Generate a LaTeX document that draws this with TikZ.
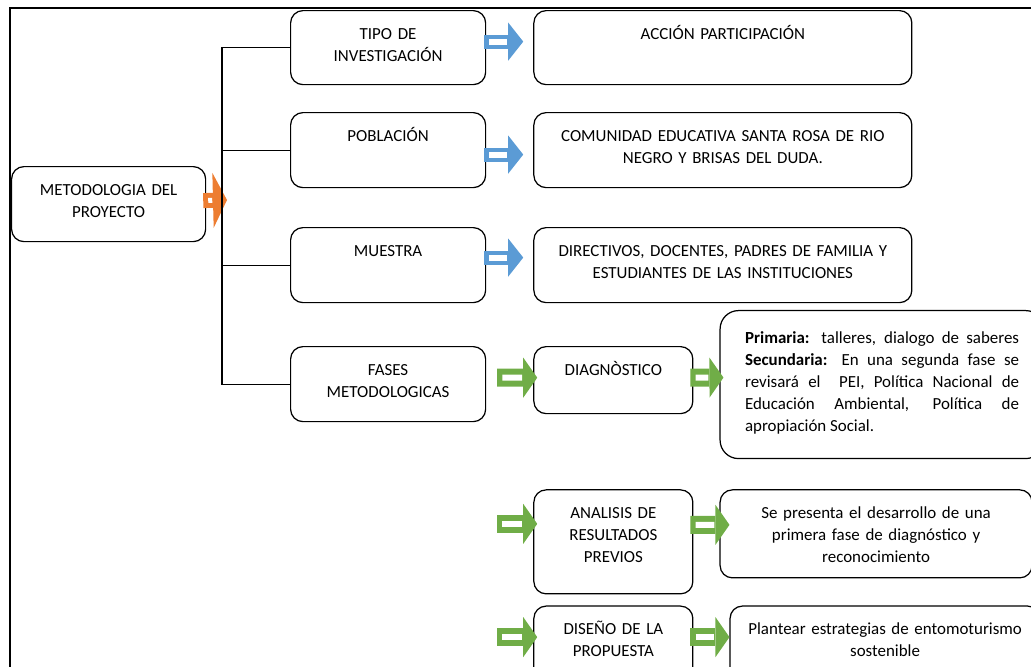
\documentclass[tikz,border=0pt]{standalone}
\usepackage{fontspec}
\setmainfont{Carlito}
\usepackage{tikz}
\usetikzlibrary{positioning}
\usetikzlibrary{arrows.meta}
\definecolor{flechaazul}{HTML}{5B9BD5}
\definecolor{flechanaranja}{HTML}{ED7D31}
\definecolor{flechaverde}{HTML}{70AD47}

\begin{document}
\begin{tikzpicture}[x=0.65pt, y=-0.65pt, line width=0.8pt,
every node/.style = {draw, rounded corners=8pt, align=center, inner sep=0pt,
  text height=18.5pt, font=\fontsize{11pt}{14.3pt}\selectfont},
  caja/.style 2 args = {text width=#1, text depth=#2},
  azul/.style = {flechaazul, line width=9.1pt,
    -{Triangle[length=9.75pt, width=24.7pt, line width=0pt]},
    postaction={draw=white, line width=3.9pt, -, shorten <=3.3pt, shorten >=10.4pt}},
  verde/.style = {flechaverde, line width=11.7pt,
    -{Triangle[length=9.1pt, width=26pt, line width=0pt]},
    postaction={draw=white, line width=3.9pt, -, shorten <=3.3pt, shorten >=9.8pt}},
  naranja/.style = {flechanaranja, line width=9.75pt,
    -{Triangle[length=9.1pt, width=35.75pt, line width=0pt]},
    postaction={draw=white, line width=3.25pt, -, shorten <=3.25pt, shorten >=9.6pt}}
]
\clip (0,0) rectangle (1031,666);
\draw[line width=1.3pt] (10,680) -- (10,8) -- (1040,8);

\node[caja={126.1pt}{30.25pt}, anchor=north west] (meto) at (11,166) {METODOLOGIA DEL\\PROYECTO};
\node[caja={126.75pt}{29.6pt}, anchor=north west] (tipo) at (290,10) {TIPO DE\\INVESTIGACIÓN};
\node[caja={126.75pt}{30.25pt}, anchor=north west] (pobl) at (290,112) {POBLACIÓN};
\node[caja={126.75pt}{30.25pt}, anchor=north west] (muestra) at (290,227) {MUESTRA};
\node[caja={126.75pt}{30.25pt}, anchor=north west] (fases) at (290,346) {FASES\\METODOLOGICAS};

\node[caja={245.7pt}{29.6pt}, right=30.55pt of tipo] (accion) {ACCIÓN PARTICIPACIÓN};
\node[caja={245.7pt}{30.25pt}, right=30.55pt of pobl] (comunidad)
  {COMUNIDAD EDUCATIVA SANTA ROSA DE RIO\\NEGRO Y BRISAS DEL DUDA.};
\node[caja={245.7pt}{30.25pt}, right=30.55pt of muestra] (directivos)
  {DIRECTIVOS, DOCENTES, PADRES DE FAMILIA Y\\ESTUDIANTES DE LAS INSTITUCIONES};

\node[caja={103.35pt}{25.05pt}, right=30.55pt of fases.north east, anchor=north west] (diag) {DIAGNÒSTICO};
\node[caja={103.35pt}{49.1pt}, below=48.75pt of diag] (analisis) {ANALISIS DE\\RESULTADOS\\PREVIOS};
\node[caja={103.35pt}{30.25pt}, below=7.15pt of analisis] (diseno) {DISEÑO DE LA\\PROPUESTA};

\node[caja={178.1pt}{75.1pt}, text height=21.1pt, inner xsep=16.25pt, rounded corners=12pt,
  align=justify, right=16.9pt of diag, yshift=-2.9pt] (primaria)
  {\textbf{Primaria:} talleres, dialogo de saberes\linebreak
   \textbf{Secundaria:} En una segunda fase se\linebreak
   revisará el\ \ PEI, Política Nacional de\linebreak
   Educación Ambiental, Política de\linebreak
   apropiación Social.};
\node[caja={202.8pt}{38.7pt}, right=16.9pt of analisis.north east, anchor=north west] (sepresenta)
  {Se presenta el desarrollo de una\\primera fase de diagnóstico y\\reconocimiento};
\node[caja={201.5pt}{30.25pt}, right=23.4pt of diseno.north east, anchor=north west] (plantear)
  {Plantear estrategias de entomoturismo\\sostenible};

\coordinate (fork) at (222,200);
\draw[naranja] ([xshift=-1.95pt, yshift=2.3pt]meto.east) -- ([xshift=3.25pt]fork);
\draw (tipo.west) -| (fork) |- (fases.west);
\draw (pobl.west) -- (pobl.west -| fork);
\draw (muestra.west) -- (muestra.west -| fork);

\draw[azul] ([xshift=-1.3pt, yshift=3.9pt]tipo.east) -- ([xshift=-6.5pt, yshift=3.9pt]accion.west);
\draw[azul] ([xshift=-1.3pt, yshift=-2.9pt]pobl.east) -- ([xshift=-6.5pt, yshift=-2.9pt]comunidad.west);
\draw[azul] ([xshift=-1.3pt, yshift=4.9pt]muestra.east) -- ([xshift=-6.5pt, yshift=4.9pt]directivos.west);

\draw[verde] ([xshift=7.15pt, yshift=4.2pt]fases.east) -- ([xshift=2.6pt, yshift=1.6pt]diag.west);
\draw[verde] ([xshift=-23.4pt, yshift=11.7pt]analisis.west) -- ([xshift=2.6pt, yshift=11.7pt]analisis.west);
\draw[verde] ([xshift=-23.4pt, yshift=4.2pt]diseno.west) -- ([xshift=2.6pt, yshift=4.2pt]diseno.west);
\draw[verde] ([xshift=-1.95pt, yshift=1.6pt]diag.east) -- ([xshift=2.6pt, yshift=4.55pt]primaria.west);
\draw[verde] ([xshift=-1.95pt, yshift=11.05pt]analisis.east) -- ([xshift=6.5pt, yshift=5.85pt]sepresenta.west);
\draw[verde] ([xshift=-1.95pt, yshift=4.2pt]diseno.east) -- ([yshift=4.2pt]plantear.west);
\end{tikzpicture}
\end{document}
